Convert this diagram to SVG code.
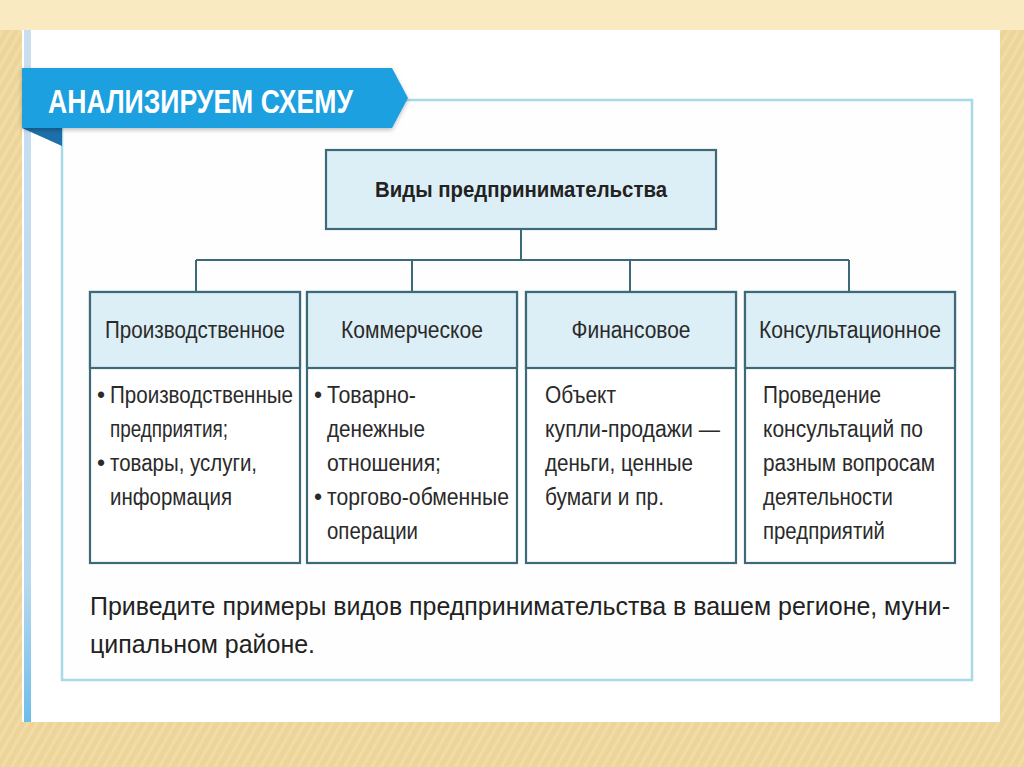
<svg xmlns="http://www.w3.org/2000/svg" width="1024" height="767" viewBox="0 0 1024 767">
<defs>
<pattern id="stripes" width="8" height="8" patternUnits="userSpaceOnUse" patternTransform="rotate(30)">
<rect width="8" height="8" fill="#edd59a"/>
<rect width="3" height="8" fill="#f1dca8"/>
</pattern>
<linearGradient id="stripe" x1="0" y1="0" x2="0" y2="1">
<stop offset="0" stop-color="#c9dff0"/>
<stop offset="0.8" stop-color="#b7d8ee"/>
<stop offset="1" stop-color="#6fbde9"/>
</linearGradient>
<filter id="sh" x="-5%" y="-5%" width="110%" height="120%">
<feDropShadow dx="0" dy="2" stdDeviation="2" flood-color="#000" flood-opacity="0.25"/>
</filter>
</defs>
<style>
.box{fill:#ffffff;stroke:#3d6a78;stroke-width:2.2}
.head{fill:#dcefF7;stroke:#3d6a78;stroke-width:2.2}
.conn{stroke:#3d6a78;stroke-width:2;fill:none}
.t{font-family:"Liberation Sans Narrow","Liberation Sans",Arial,sans-serif;fill:#2a2a2a;font-size:23px}
.h{font-family:"Liberation Sans Narrow","Liberation Sans",Arial,sans-serif;fill:#2a2a2a;font-size:23px;text-anchor:middle}
</style>
<!-- background frame -->
<rect width="1024" height="767" fill="url(#stripes)"/>
<rect x="0" y="0" width="1024" height="30" fill="#f9eac2"/>
<rect x="22" y="30" width="978" height="692" fill="#ffffff"/>
<rect x="24" y="30" width="7" height="692" fill="url(#stripe)"/>
<!-- outer panel -->
<rect x="62" y="100" width="910" height="580" fill="#fefefe" stroke="#a9d9e6" stroke-width="2.5"/>
<!-- banner -->
<g id="banner">
<polygon points="22,128 62,128 62,146" fill="#1c6fa8"/>
<polygon points="22,68 392,68 408,98 392,128 22,128" fill="#1aa0e0" filter="url(#sh)"/>
<text x="48" y="113" font-family="'Liberation Sans Narrow','Liberation Sans',Arial,sans-serif" font-size="33" font-weight="bold" fill="#ffffff" textLength="305" lengthAdjust="spacingAndGlyphs">АНАЛИЗИРУЕМ СХЕМУ</text>
</g>
<!-- connectors -->
<g id="connectors">
<path class="conn" d="M521 229 V260 M196 260 H849 M196 260 V292 M412 260 V292 M630 260 V292 M849 260 V292"/>
</g>
<!-- top node -->
<g id="root">
<rect class="head" x="326" y="150" width="390" height="79"/>
<text x="521" y="197" text-anchor="middle" font-family="'Liberation Sans Narrow','Liberation Sans',Arial,sans-serif" font-size="22" font-weight="bold" fill="#222" textLength="292" lengthAdjust="spacingAndGlyphs">Виды предпринимательства</text>
</g>
<g id="n1">
<rect class="box" x="90" y="292" width="210" height="271"/>
<rect class="head" x="90" y="292" width="210" height="76"/>
<text class="h" x="195" y="338" textLength="180" lengthAdjust="spacingAndGlyphs">Производственное</text>
<text class="t" x="97" y="403" font-size="18">•</text>
<text class="t" x="110" y="403" textLength="183" lengthAdjust="spacingAndGlyphs">Производственные</text>
<text class="t" x="110" y="437" textLength="118" lengthAdjust="spacingAndGlyphs">предприятия;</text>
<text class="t" x="97" y="471" font-size="18">•</text>
<text class="t" x="110" y="471" textLength="147" lengthAdjust="spacingAndGlyphs">товары, услуги,</text>
<text class="t" x="110" y="505" textLength="122" lengthAdjust="spacingAndGlyphs">информация</text>
</g>
<g id="n2">
<rect class="box" x="307" y="292" width="210" height="271"/>
<rect class="head" x="307" y="292" width="210" height="76"/>
<text class="h" x="412" y="338" textLength="142" lengthAdjust="spacingAndGlyphs">Коммерческое</text>
<text class="t" x="314" y="403" font-size="18">•</text>
<text class="t" x="327" y="403" textLength="89" lengthAdjust="spacingAndGlyphs">Товарно-</text>
<text class="t" x="327" y="437" textLength="98" lengthAdjust="spacingAndGlyphs">денежные</text>
<text class="t" x="327" y="471" textLength="114" lengthAdjust="spacingAndGlyphs">отношения;</text>
<text class="t" x="314" y="505" font-size="18">•</text>
<text class="t" x="327" y="505" textLength="182" lengthAdjust="spacingAndGlyphs">торгово-обменные</text>
<text class="t" x="327" y="539" textLength="91" lengthAdjust="spacingAndGlyphs">операции</text>
</g>
<g id="n3">
<rect class="box" x="526" y="292" width="210" height="271"/>
<rect class="head" x="526" y="292" width="210" height="76"/>
<text class="h" x="631" y="338" textLength="119" lengthAdjust="spacingAndGlyphs">Финансовое</text>
<text class="t" x="545" y="403" textLength="71" lengthAdjust="spacingAndGlyphs">Объект</text>
<text class="t" x="545" y="437" textLength="175" lengthAdjust="spacingAndGlyphs">купли-продажи —</text>
<text class="t" x="545" y="471" textLength="148" lengthAdjust="spacingAndGlyphs">деньги, ценные</text>
<text class="t" x="545" y="505" textLength="119" lengthAdjust="spacingAndGlyphs">бумаги и пр.</text>
</g>
<g id="n4">
<rect class="box" x="745" y="292" width="210" height="271"/>
<rect class="head" x="745" y="292" width="210" height="76"/>
<text class="h" x="850" y="338" textLength="182" lengthAdjust="spacingAndGlyphs">Консультационное</text>
<text class="t" x="763" y="403" textLength="118" lengthAdjust="spacingAndGlyphs">Проведение</text>
<text class="t" x="763" y="437" textLength="160" lengthAdjust="spacingAndGlyphs">консультаций по</text>
<text class="t" x="763" y="471" textLength="172" lengthAdjust="spacingAndGlyphs">разным вопросам</text>
<text class="t" x="763" y="505" textLength="130" lengthAdjust="spacingAndGlyphs">деятельности</text>
<text class="t" x="763" y="539" textLength="122" lengthAdjust="spacingAndGlyphs">предприятий</text>
</g>
<!-- bottom text -->
<g id="question" font-family="'Liberation Sans Narrow','Liberation Sans',Arial,sans-serif" font-size="25" fill="#222">
<text x="90" y="615" textLength="860" lengthAdjust="spacingAndGlyphs">Приведите примеры видов предпринимательства в вашем регионе, муни-</text>
<text x="90" y="653" textLength="225" lengthAdjust="spacingAndGlyphs">ципальном районе.</text>
</g>
</svg>
